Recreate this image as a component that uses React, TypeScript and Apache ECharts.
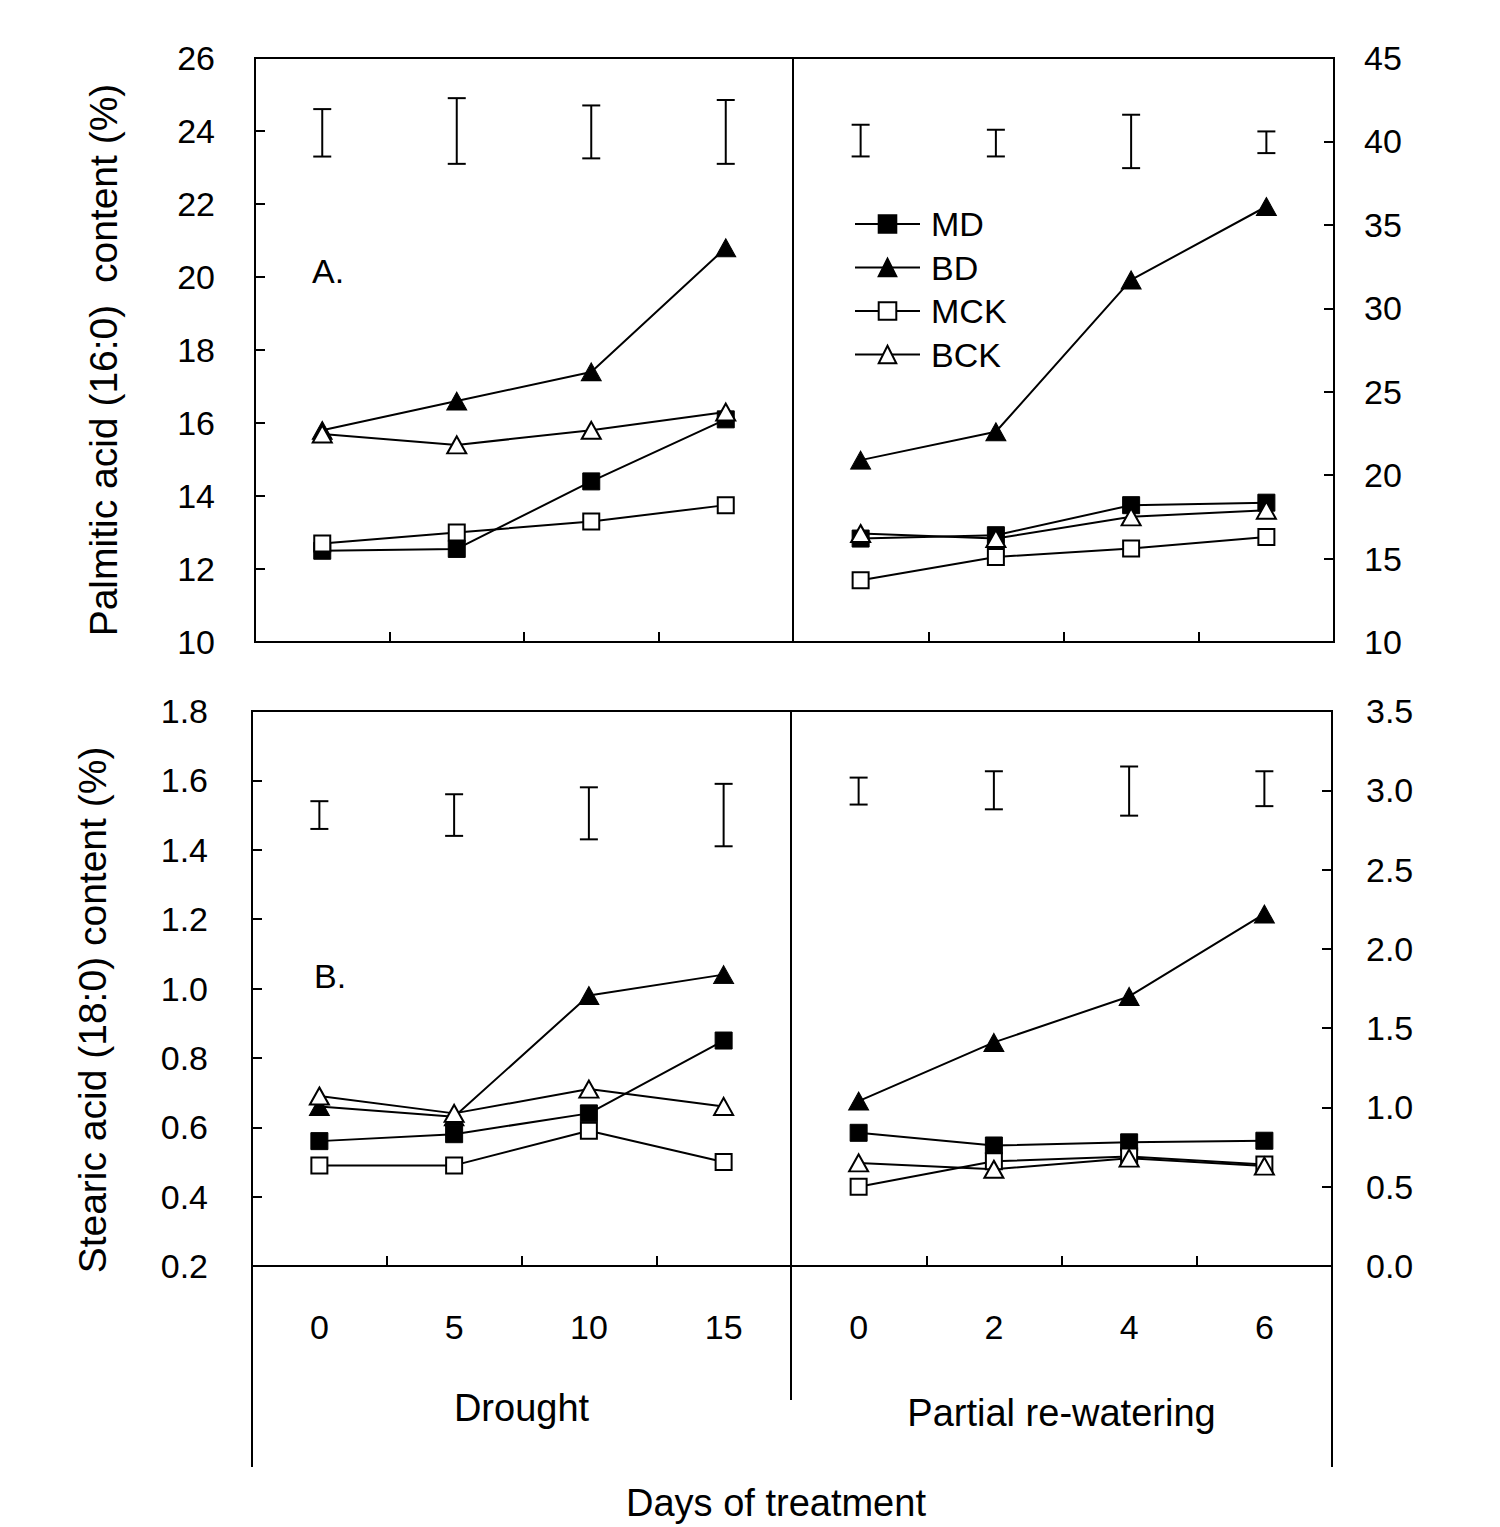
import React, { useEffect, useRef } from 'react';
import * as echarts from 'echarts';

// ---------- data ----------
const droughtDays = ['0', '5', '10', '15'];
const rewaterDays = ['0', '2', '4', '6'];
const seriesNames = ['MD', 'BD', 'MCK', 'BCK'];

// Palmitic acid (16:0), drought (left axis)
const palDroughtMD = [12.5, 12.55, 14.4, 16.1];
const palDroughtBD = [15.8, 16.6, 17.4, 20.8];
const palDroughtMCK = [12.7, 13.0, 13.3, 13.75];
const palDroughtBCK = [15.7, 15.4, 15.8, 16.3];
const palDroughtLSD = [[23.3, 24.6], [23.1, 24.9], [23.25, 24.7], [23.1, 24.85]];

// Palmitic acid (16:0), partial re-watering (right axis)
const palRewaterMD = [16.2, 16.4, 18.2, 18.35];
const palRewaterBD = [20.9, 22.6, 31.7, 36.1];
const palRewaterMCK = [13.7, 15.1, 15.6, 16.3];
const palRewaterBCK = [16.5, 16.2, 17.5, 17.9];
const palRewaterLSD = [[39.1, 41.0], [39.1, 40.7], [38.4, 41.6], [39.3, 40.6]];

// Stearic acid (18:0), drought (left axis)
const steDroughtMD = [0.56, 0.58, 0.64, 0.85];
const steDroughtBD = [0.66, 0.63, 0.98, 1.04];
const steDroughtMCK = [0.49, 0.49, 0.59, 0.5];
const steDroughtBCK = [0.69, 0.64, 0.71, 0.66];
const steDroughtLSD = [[1.46, 1.54], [1.44, 1.56], [1.43, 1.58], [1.41, 1.59]];

// Stearic acid (18:0), partial re-watering (right axis)
const steRewaterMD = [0.84, 0.76, 0.78, 0.79];
const steRewaterBD = [1.04, 1.41, 1.7, 2.22];
const steRewaterMCK = [0.5, 0.66, 0.69, 0.64];
const steRewaterBCK = [0.65, 0.61, 0.68, 0.63];
const steRewaterLSD = [[2.91, 3.08], [2.88, 3.12], [2.84, 3.15], [2.9, 3.12]];

const FONT = '"Liberation Sans", Arial, sans-serif';
const BLACK = '#000';

const markerStyles: Record<string, any> = {
  MD: { symbol: 'rect', symbolSize: 17, itemStyle: { color: BLACK, borderColor: BLACK, borderWidth: 1 } },
  BD: { symbol: 'triangle', symbolSize: [20, 18], itemStyle: { color: BLACK, borderColor: BLACK, borderWidth: 1 } },
  MCK: { symbol: 'rect', symbolSize: 16, itemStyle: { color: '#fff', borderColor: BLACK, borderWidth: 2 } },
  BCK: { symbol: 'triangle', symbolSize: [19, 17], itemStyle: { color: '#fff', borderColor: BLACK, borderWidth: 2 } },
};

function lineSeries(name: string, data: number[], idx: number) {
  return {
    type: 'line',
    name,
    xAxisIndex: idx,
    yAxisIndex: idx,
    data,
    ...markerStyles[name],
    showSymbol: true,
    showAllSymbol: true,
    lineStyle: { color: BLACK, width: 2 },
    emphasis: { disabled: true },
    silent: true,
    z: 3,
  };
}

function lsdSeries(ranges: number[][], idx: number) {
  return {
    type: 'custom',
    name: 'LSD',
    xAxisIndex: idx,
    yAxisIndex: idx,
    data: ranges.map((r, i) => [i, r[0], r[1]]),
    silent: true,
    renderItem: (params: any, api: any) => {
      const x = api.value(0);
      const lo = api.coord([x, api.value(1)]);
      const hi = api.coord([x, api.value(2)]);
      const hw = 9;
      const st = { stroke: BLACK, lineWidth: 2 };
      return {
        type: 'group',
        children: [
          { type: 'line', shape: { x1: lo[0], y1: lo[1], x2: hi[0], y2: hi[1] }, style: st },
          { type: 'line', shape: { x1: lo[0] - hw, y1: lo[1], x2: lo[0] + hw, y2: lo[1] }, style: st },
          { type: 'line', shape: { x1: hi[0] - hw, y1: hi[1], x2: hi[0] + hw, y2: hi[1] }, style: st },
        ],
      };
    },
  };
}

const grids = [
  { left: 255, top: 58, width: 538, height: 584 },
  { left: 793, top: 58, width: 541, height: 584 },
  { left: 252, top: 711, width: 539, height: 555 },
  { left: 791, top: 711, width: 541, height: 555 },
];

export default function App() {
  const ref = useRef<HTMLDivElement>(null);

  useEffect(() => {
    if (!ref.current) return;
    const chart = echarts.init(ref.current, null, { renderer: 'svg' });

    const axisLine = { show: true, lineStyle: { color: BLACK, width: 2 } };
    const axisTick = { show: true, inside: true, length: 10, lineStyle: { color: BLACK, width: 2 } };

    const xAxes = grids.map((g, i) => ({
      type: 'category',
      gridIndex: i,
      data: i % 2 === 0 ? droughtDays : rewaterDays,
      boundaryGap: true,
      axisLine,
      axisTick: { ...axisTick, interval: 0 },
      splitLine: { show: false },
      axisLabel: {
        show: i >= 2,
        interval: 0,
        margin: 44,
        fontSize: 34,
        color: BLACK,
        fontFamily: FONT,
      },
      name: i === 2 ? 'Drought' : i === 3 ? 'Partial re-watering' : '',
      nameLocation: 'middle',
      nameGap: i === 2 ? 123 : 128,
      nameTextStyle: { fontSize: 38, color: BLACK, fontFamily: FONT },
    }));

    const yDefs = [
      { pos: 'left', min: 10, max: 26, interval: 2, margin: 40, dec: 0 },
      { pos: 'right', min: 10, max: 45, interval: 5, margin: 30, dec: 0 },
      { pos: 'left', min: 0.2, max: 1.8, interval: 0.2, margin: 44, dec: 1 },
      { pos: 'right', min: 0, max: 3.5, interval: 0.5, margin: 34, dec: 1 },
    ];
    const yAxes = yDefs.map((d, i) => ({
      type: 'value',
      gridIndex: i,
      position: d.pos,
      min: d.min,
      max: d.max,
      interval: d.interval,
      axisLine,
      axisTick,
      splitLine: { show: false },
      axisLabel: {
        margin: d.margin,
        fontSize: 34,
        color: BLACK,
        fontFamily: FONT,
        formatter: (v: number) => v.toFixed(d.dec),
      },
    }));

    const series: any[] = [
      lineSeries('MD', palDroughtMD, 0),
      lineSeries('BD', palDroughtBD, 0),
      lineSeries('MCK', palDroughtMCK, 0),
      lineSeries('BCK', palDroughtBCK, 0),
      lsdSeries(palDroughtLSD, 0),
      lineSeries('MD', palRewaterMD, 1),
      lineSeries('BD', palRewaterBD, 1),
      lineSeries('MCK', palRewaterMCK, 1),
      lineSeries('BCK', palRewaterBCK, 1),
      lsdSeries(palRewaterLSD, 1),
      lineSeries('MD', steDroughtMD, 2),
      lineSeries('BD', steDroughtBD, 2),
      lineSeries('MCK', steDroughtMCK, 2),
      lineSeries('BCK', steDroughtBCK, 2),
      lsdSeries(steDroughtLSD, 2),
      lineSeries('MD', steRewaterMD, 3),
      lineSeries('BD', steRewaterBD, 3),
      lineSeries('MCK', steRewaterMCK, 3),
      lineSeries('BCK', steRewaterBCK, 3),
      lsdSeries(steRewaterLSD, 3),
    ];

    const textStyle = (text: string, size: number, align = 'center') => ({
      text,
      fontSize: size,
      fontFamily: FONT,
      fill: BLACK,
      align,
      verticalAlign: 'middle',
    });

    const lineEl = (x1: number, y1: number, x2: number, y2: number) => ({
      type: 'line',
      shape: { x1, y1, x2, y2 },
      style: { stroke: BLACK, lineWidth: 2 },
    });

    const option: any = {
      animation: false,
      backgroundColor: '#fff',
      textStyle: { fontFamily: FONT, color: BLACK },
      grid: grids.map((g) => ({
        ...g,
        show: true,
        borderColor: BLACK,
        borderWidth: 2,
        backgroundColor: 'transparent',
        containLabel: false,
        outerBoundsMode: 'none',
      })),
      xAxis: xAxes,
      yAxis: yAxes,
      legend: {
        data: seriesNames,
        orient: 'vertical',
        left: 854,
        top: 207,
        padding: 0,
        itemWidth: 65,
        itemHeight: 22,
        itemGap: 9.5,
        selectedMode: false,
        textStyle: { fontSize: 34, lineHeight: 34, color: BLACK, fontFamily: FONT, padding: [0, 0, 0, 6] },
      },
      series,
      graphic: [
        {
          type: 'text',
          x: 103,
          y: 360,
          rotation: Math.PI / 2,
          style: textStyle('Palmitic acid (16:0)  content (%)', 39),
        },
        {
          type: 'text',
          x: 92,
          y: 1010,
          rotation: Math.PI / 2,
          style: textStyle('Stearic acid (18:0) content (%)', 39),
        },
        { type: 'text', x: 312, y: 271, style: textStyle('A.', 34, 'left') },
        { type: 'text', x: 314, y: 976, style: textStyle('B.', 34, 'left') },
        { type: 'text', x: 776, y: 1503, style: textStyle('Days of treatment', 38) },
        lineEl(252, 1266, 252, 1467),
        lineEl(791, 1266, 791, 1400),
        lineEl(1332, 1266, 1332, 1467),
      ],
    };

    chart.setOption(option);
    return () => chart.dispose();
  }, []);

  return (
    <div
      ref={ref}
      style={{ position: 'absolute', left: 0, top: 0, width: 1500, height: 1527, background: '#fff' }}
    />
  );
}
